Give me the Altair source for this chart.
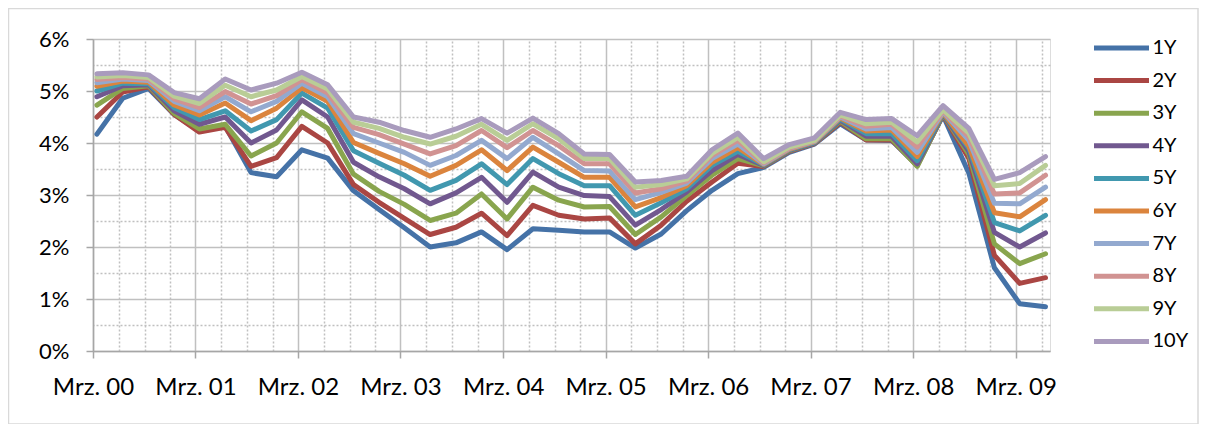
import altair as alt
import pandas as pd

# ---- data (values in %) ----
series_names = ["1Y", "2Y", "3Y", "4Y", "5Y", "6Y", "7Y", "8Y", "9Y", "10Y"]
colors = ["#4572A7", "#AA4643", "#89A54E", "#71588F", "#4198AF",
          "#DB843D", "#93A9CF", "#D19392", "#B9CD96", "#A99BBD"]

# quarterly observations, Mar 2000 .. Jun 2009 (mid-month positions)
dates = [d.strftime("%Y-%m-15") for d in pd.date_range("2000-03-01", periods=38, freq="3MS")]

Y1 = [4.17, 4.86, 5.05, 4.55, 4.23, 4.32, 3.43, 3.35, 3.87, 3.71, 3.08, 2.72, 2.37, 2.00, 2.08, 2.29, 1.95, 2.35, 2.32, 2.29, 2.29, 1.98, 2.25, 2.70, 3.09, 3.41, 3.53, 3.82, 3.98, 4.37, 4.06, 4.05, 3.57, 4.53, 3.42, 1.60, 0.91, 0.85]
Y2 = [4.50, 4.98, 5.08, 4.55, 4.21, 4.30, 3.55, 3.72, 4.32, 4.00, 3.20, 2.86, 2.55, 2.24, 2.38, 2.65, 2.22, 2.80, 2.61, 2.54, 2.56, 2.06, 2.42, 2.88, 3.25, 3.61, 3.55, 3.84, 3.99, 4.40, 4.06, 4.06, 3.57, 4.54, 3.70, 1.84, 1.30, 1.41]
Y3 = [4.73, 5.05, 5.10, 4.57, 4.27, 4.36, 3.75, 4.00, 4.60, 4.28, 3.40, 3.07, 2.82, 2.51, 2.65, 3.02, 2.54, 3.15, 2.90, 2.77, 2.78, 2.24, 2.58, 2.99, 3.38, 3.70, 3.56, 3.85, 4.00, 4.42, 4.08, 4.08, 3.55, 4.55, 3.78, 2.06, 1.68, 1.87]
Y4 = [4.89, 5.10, 5.12, 4.62, 4.36, 4.50, 4.00, 4.25, 4.83, 4.50, 3.63, 3.35, 3.12, 2.83, 3.04, 3.34, 2.86, 3.44, 3.15, 2.99, 2.97, 2.42, 2.72, 3.06, 3.47, 3.78, 3.57, 3.86, 4.00, 4.44, 4.13, 4.13, 3.60, 4.56, 3.84, 2.28, 2.00, 2.27]
Y5 = [5.00, 5.15, 5.14, 4.68, 4.45, 4.62, 4.23, 4.45, 4.96, 4.67, 3.85, 3.61, 3.38, 3.09, 3.28, 3.60, 3.20, 3.70, 3.41, 3.18, 3.18, 2.61, 2.85, 3.12, 3.57, 3.84, 3.58, 3.87, 4.01, 4.46, 4.18, 4.18, 3.66, 4.57, 3.90, 2.47, 2.31, 2.61]
Y6 = [5.09, 5.19, 5.17, 4.73, 4.54, 4.77, 4.43, 4.67, 5.06, 4.80, 4.01, 3.80, 3.60, 3.36, 3.57, 3.87, 3.47, 3.92, 3.63, 3.34, 3.34, 2.77, 2.95, 3.18, 3.63, 3.91, 3.59, 3.88, 4.02, 4.48, 4.23, 4.25, 3.74, 4.58, 3.94, 2.66, 2.58, 2.91]
Y7 = [5.16, 5.23, 5.20, 4.80, 4.62, 4.89, 4.60, 4.80, 5.15, 4.89, 4.18, 4.00, 3.82, 3.57, 3.76, 4.05, 3.70, 4.11, 3.79, 3.47, 3.46, 2.91, 3.05, 3.23, 3.70, 3.98, 3.60, 3.89, 4.03, 4.50, 4.27, 4.30, 3.82, 4.60, 4.05, 2.84, 2.83, 3.15]
Y8 = [5.22, 5.26, 5.23, 4.85, 4.68, 4.99, 4.75, 4.91, 5.22, 4.96, 4.30, 4.16, 3.98, 3.79, 3.95, 4.24, 3.91, 4.24, 3.95, 3.60, 3.60, 3.04, 3.12, 3.27, 3.76, 4.05, 3.62, 3.90, 4.04, 4.52, 4.32, 4.36, 3.92, 4.62, 4.12, 3.02, 3.04, 3.38]
Y9 = [5.27, 5.30, 5.26, 4.90, 4.76, 5.11, 4.89, 5.02, 5.28, 5.04, 4.40, 4.28, 4.11, 3.98, 4.13, 4.36, 4.05, 4.37, 4.08, 3.70, 3.70, 3.15, 3.20, 3.31, 3.80, 4.11, 3.64, 3.92, 4.05, 4.54, 4.37, 4.40, 4.02, 4.64, 4.19, 3.18, 3.22, 3.57]
Y10 = [5.33, 5.35, 5.31, 4.97, 4.85, 5.23, 5.02, 5.15, 5.36, 5.12, 4.50, 4.40, 4.24, 4.11, 4.27, 4.47, 4.19, 4.48, 4.18, 3.79, 3.78, 3.25, 3.28, 3.36, 3.87, 4.19, 3.70, 3.97, 4.10, 4.59, 4.45, 4.47, 4.14, 4.72, 4.28, 3.30, 3.43, 3.74]

all_series = [Y1, Y2, Y3, Y4, Y5, Y6, Y7, Y8, Y9, Y10]
rows = []
for k, (name, vals) in enumerate(zip(series_names, all_series)):
    assert len(vals) == len(dates)
    for d, v in zip(dates, vals):
        rows.append({"date": d, "value": v, "series": name, "ord": k})
df = pd.DataFrame(rows)

major_years = list(range(2000, 2010))
y_major = [0, 1, 2, 3, 4, 5, 6]
y_minor = [0.5, 1.5, 2.5, 3.5, 4.5, 5.5]

FONT = "Lato"
GRID = "#C0C0C0"
AXC = "#A6A6A6"
W, H = 957, 312

x_scale = alt.Scale(type="utc",
                    domain=[alt.DateTime(year=2000, month=3, date=1, utc=True),
                            alt.DateTime(year=2009, month=7, date=1, utc=True)])
y_scale = alt.Scale(domain=[0, 6], nice=False)

major_x_vals = [alt.DateTime(year=y, month=3, date=1, utc=True) for y in major_years]
minor_x_vals = [alt.DateTime(year=y, month=m, date=1, utc=True)
                for y in major_years for m in (6, 9, 12)]

# minor (dotted) grid layer
minor = alt.Chart(df).mark_line(opacity=0).encode(
    x=alt.X("date:T", scale=x_scale,
            axis=alt.Axis(values=minor_x_vals, orient="top", grid=True, gridDash=[2, 2],
                          gridColor=GRID, gridWidth=1.5, labels=False, ticks=False,
                          domain=False, title=None)),
    y=alt.Y("value:Q", scale=y_scale,
            axis=alt.Axis(values=y_minor, orient="right", grid=True, gridDash=[2, 2],
                          gridColor=GRID, gridWidth=1.5, labels=False, ticks=False,
                          domain=False, title=None)),
    detail="series:N",
)

lines = alt.Chart(df).mark_line(strokeWidth=5, strokeCap="round", strokeJoin="round").encode(
    x=alt.X("date:T", scale=x_scale,
            axis=alt.Axis(values=major_x_vals, grid=True, gridColor=GRID, gridWidth=1.5,
                          labelExpr="'Mrz. ' + utcFormat(datum.value, '%y')",
                          labelFont=FONT, labelFontSize=24, labelColor="#000000",
                          labelOverlap=False, labelFlush=False,
                          labelPadding=17, tickSize=7, tickColor=AXC, tickWidth=1.5,
                          domainColor=AXC, domainWidth=1.5, title=None)),
    y=alt.Y("value:Q", scale=y_scale,
            axis=alt.Axis(values=y_major, grid=True, gridColor=GRID, gridWidth=1.5,
                          labelExpr="datum.value + '%'",
                          labelFont=FONT, labelFontSize=22, labelColor="#000000",
                          labelOverlap=False, labelFlush=False,
                          labelPadding=17, tickSize=7, tickColor=AXC, tickWidth=1.5,
                          domainColor=AXC, domainWidth=1.5, title=None)),
    color=alt.Color("series:N", sort=series_names,
                    scale=alt.Scale(domain=series_names, range=colors),
                    legend=alt.Legend(title=None, orient="none", legendX=1018.5, legendY=-1,
                                      symbolType="M-5,0H5", symbolSize=121,
                                      symbolStrokeWidth=5, labelFont=FONT,
                                      labelFontSize=20, labelColor="#000000",
                                      labelAlign="left",
                                      labelOffset=21, rowPadding=12.6, padding=0)),
    order=alt.Order("ord:Q"),
)

frame = alt.Chart(pd.DataFrame({"a": [0]})).mark_rect(
    fill=None, stroke="#D9D9D9", strokeWidth=1.5
).encode(
    x=alt.value(-84.5), x2=alt.value(1105), y=alt.value(-30.5), y2=alt.value(385)
)

chart = alt.layer(frame, minor, lines).resolve_axis(
    x="independent", y="independent"
).properties(
    width=W, height=H,
    autosize=alt.AutoSizeParams(type="none"),
    padding={"left": 85, "top": 31, "right": 149, "bottom": 73},
).configure_view(stroke=None).configure(background="#FFFFFF")

chart.save("out.html", embed_options={"renderer": "svg", "actions": False})
